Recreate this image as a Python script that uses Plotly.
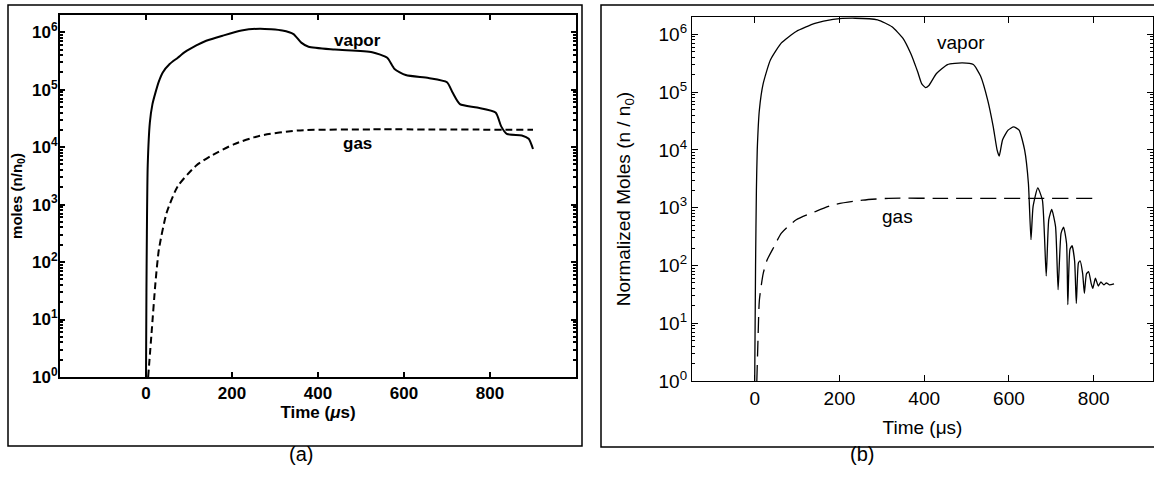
import plotly.graph_objects as go

# ---------------- data ----------------
# panel (a)
a_vapor_t = [0, 1, 2, 4, 9, 15, 22, 30, 39, 55, 74, 90, 117, 140, 178, 222, 265, 317, 343, 361,
             378, 439, 526, 561, 578, 604, 657, 700, 713, 730, 770, 813, 826, 839, 874, 890, 900]
a_vapor_n = [1, 30, 300, 4800, 27000, 5.6e4, 89000, 1.4e5, 2.0e5, 2.8e5, 3.6e5, 4.5e5, 5.9e5,
             7.1e5, 8.7e5, 1.07e6, 1.15e6, 1.07e6, 9.3e5, 6.6e5, 5.6e5, 5.0e5, 4.5e5, 3.6e5,
             2.3e5, 1.8e5, 1.6e5, 1.35e5, 8.9e4, 5.6e4, 4.9e4, 4.0e4, 2.3e4, 1.7e4, 1.6e4,
             1.4e4, 9.3e3]
a_gas_t = [5, 13, 22, 30, 48, 74, 117, 152, 204, 265, 352, 526, 900]
a_gas_n = [1, 5.9, 44, 166, 720, 2100, 4800, 7100, 1.12e4, 1.58e4, 1.95e4, 2.04e4, 2.0e4]

# panel (b)
b_vapor_t = [0, 2, 4, 6, 11, 20, 37, 63, 98, 142, 185, 237, 290, 324, 350, 368, 377, 385, 394,
             403, 411, 429, 455, 490, 516, 533, 550, 563, 572, 577, 585, 598, 611, 624, 637, 646,
             652, 657, 668, 679, 688, 694, 701, 710, 716, 723, 729, 736, 739, 744, 749, 755, 759,
             764, 768, 774, 778, 783, 788, 794, 798, 804, 811, 817, 824, 830, 837, 848]
b_vapor_n = [1, 100, 2000, 1.0e4, 4.9e4, 1.4e5, 3.6e5, 7.1e5, 1.12e6, 1.55e6, 1.82e6, 1.9e6,
             1.78e6, 1.35e6, 8.5e5, 4.7e5, 3.2e5, 2.2e5, 1.4e5, 1.2e5, 1.3e5, 2.1e5, 3.0e5, 3.2e5,
             3.0e5, 1.9e5, 7.2e4, 2.5e4, 1.0e4, 7.8e3, 1.5e4, 2.2e4, 2.5e4, 2.2e4, 1.0e4, 2.6e3,
             280, 1050, 2200, 1350, 66, 620, 930, 470, 38, 360, 460, 240, 21, 190, 220, 120, 22,
             110, 120, 72, 33, 72, 78, 49, 40, 60, 44, 52, 46, 50, 46, 48]
b_gas_t = [5, 8, 11, 20, 29, 46, 63, 98, 142, 185, 255, 316, 446, 811]
b_gas_n = [1, 6, 25, 72, 123, 214, 363, 617, 850, 1120, 1350, 1450, 1450, 1450]

x_ticks = [0, 200, 400, 600, 800]
y_ticks = [1, 10, 100, 1e3, 1e4, 1e5, 1e6]
y_ticktext = ["10<sup>%d</sup>" % k for k in range(7)]
y_minor = [m * 10 ** k for k in range(7) for m in range(2, 10) if m * 10 ** k < 2e6]

W, H = 1154, 489
def px(x):
    return x / W
def py(y):
    return 1 - y / H

fig = go.Figure()
fig.add_trace(go.Scatter(x=a_vapor_t, y=a_vapor_n, mode="lines", line=dict(color="black", width=2, shape="spline", smoothing=0.6),
                         xaxis="x", yaxis="y", showlegend=False))
fig.add_trace(go.Scatter(x=a_gas_t, y=a_gas_n, mode="lines", line=dict(color="black", width=2, dash="7px,4px", shape="spline", smoothing=0.6),
                         xaxis="x", yaxis="y", showlegend=False))
fig.add_trace(go.Scatter(x=b_vapor_t, y=b_vapor_n, mode="lines", line=dict(color="black", width=1.3, shape="spline", smoothing=0.5),
                         xaxis="x2", yaxis="y2", showlegend=False))
fig.add_trace(go.Scatter(x=b_gas_t, y=b_gas_n, mode="lines", line=dict(color="black", width=1.3, dash="16px,8px", shape="spline", smoothing=0.6),
                         xaxis="x2", yaxis="y2", showlegend=False))

fa = dict(family="Liberation Sans, Arial, sans-serif", size=17, color="black", weight="bold")
fb = dict(family="Liberation Sans, Arial, sans-serif", size=19, color="black")

common = dict(showline=True, linecolor="black", mirror="ticks", ticks="inside",
              showgrid=False, zeroline=False, automargin=False, tickcolor="black")

fig.update_layout(
    width=W, height=H, margin=dict(l=0, r=0, t=0, b=0),
    paper_bgcolor="white", plot_bgcolor="white", template="none",
    xaxis=dict(common, domain=[px(60), px(576)], range=[-200, 1000], tickvals=x_ticks,
               linewidth=2, ticklen=5, tickwidth=1.5, tickfont=fa, anchor="y",
               title=dict(text="Time (<i>μ</i>s)", font=fa, standoff=2)),
    yaxis=dict(common, type="log", domain=[py(377), py(15)], range=[0, 6.3], tickvals=y_ticks,
               ticktext=y_ticktext, linewidth=2, ticklen=5, tickwidth=1.5, tickfont=fa, anchor="x",
               ticklabelstandoff=-3,
               minor=dict(ticks="inside", ticklen=3, tickvals=y_minor, tickcolor="black"),
               title=dict(text="moles (n/n<sub>0</sub>)", font=dict(fa, size=15), standoff=6)),
    xaxis2=dict(common, domain=[px(692), px(1153)], range=[-148, 940], tickvals=x_ticks,
                linewidth=1.2, ticklen=6, tickwidth=1, tickfont=fb, anchor="y2",
                title=dict(text="Time (μs)", font=fb, standoff=12)),
    yaxis2=dict(common, type="log", domain=[py(381), py(17)], range=[0, 6.3], tickvals=y_ticks,
                ticktext=y_ticktext, linewidth=1.2, ticklen=6, tickwidth=1, tickfont=fb, anchor="x2",
                minor=dict(ticks="inside", ticklen=3, tickvals=y_minor, tickcolor="black"),
                title=dict(text="Normalized Moles (n / n<sub>0</sub>)", font=fb, standoff=22)),
    shapes=[
        dict(type="rect", xref="paper", yref="paper", x0=px(8), x1=px(582), y0=py(446), y1=py(5),
             line=dict(color="black", width=1.5)),
        dict(type="rect", xref="paper", yref="paper", x0=px(601), x1=1.02, y0=py(447), y1=py(5),
             line=dict(color="black", width=1.5)),
    ],
    annotations=[
        dict(x=492, y=5.86, xref="x", yref="y", text="vapor", showarrow=False, font=fa),
        dict(x=492, y=4.07, xref="x", yref="y", text="gas", showarrow=False, font=fa),
        dict(x=486, y=5.85, xref="x2", yref="y2", text="vapor", showarrow=False, font=fb),
        dict(x=337, y=2.84, xref="x2", yref="y2", text="gas", showarrow=False, font=fb),
        dict(x=px(287), y=py(467), xref="paper", yref="paper", text="(a)", showarrow=False,
             font=dict(family="Liberation Sans, Arial, sans-serif", size=20, color="black")),
        dict(x=px(876), y=py(467), xref="paper", yref="paper", text="(b)", showarrow=False,
             font=dict(family="Liberation Sans, Arial, sans-serif", size=20, color="black")),
    ],
)

fig.write_html("out.html")
